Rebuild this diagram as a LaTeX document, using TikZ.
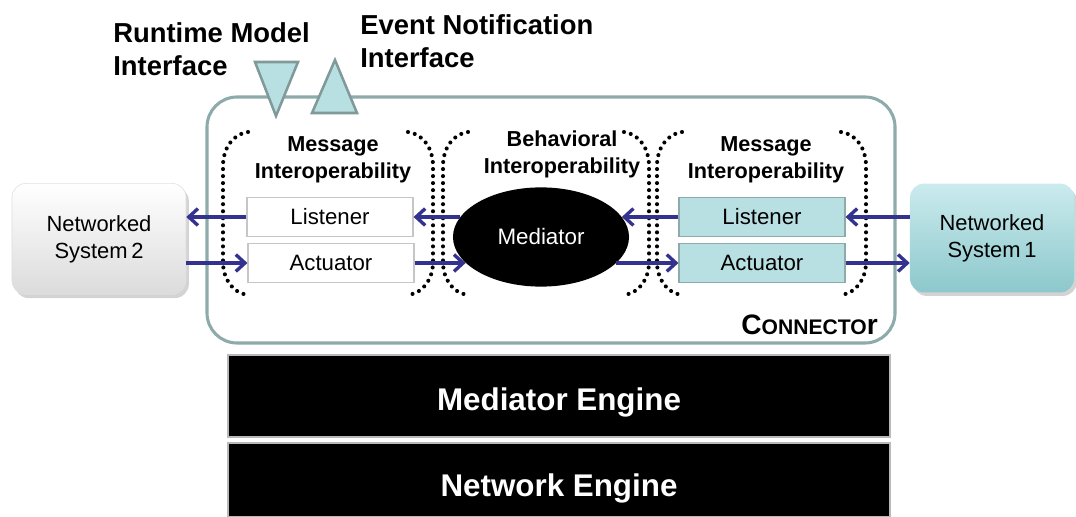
\documentclass[tikz,border=0pt]{standalone}
\usepackage{fontspec}
\setmainfont{Liberation Sans}
\usetikzlibrary{shapes.geometric,arrows.meta,shadows}

\definecolor{connline}{HTML}{8EABAB}
\definecolor{teallight}{HTML}{B8DFE1}
\definecolor{tealtop}{HTML}{CBEBED}
\definecolor{tealbot}{HTML}{8CC8CC}
\definecolor{arrowblue}{HTML}{33338F}

\tikzset{
  msgarrow/.style={draw=arrowblue, line width=2.4pt, -{Straight Barb[length=6.5pt,width=12pt]}},
  dotline/.style={line width=2.9pt, dash pattern=on 0pt off 5pt, line cap=round},
  portbox/.style={draw=gray!45, line width=0.8pt, minimum width=4.15cm, minimum height=0.97cm,
    inner sep=0pt, font=\fontsize{15.8}{19}\selectfont},
  netsys/.style={rounded corners=10pt, align=center, inner sep=0pt,
    drop shadow={shadow xshift=2pt, shadow yshift=-2.5pt, opacity=0.35},
    font=\fontsize{15.6}{19}\selectfont},
  layerhead/.style={align=center, font=\bfseries\fontsize{15.4}{19.2}\selectfont},
  toplabel/.style={align=left, anchor=north west, inner sep=0pt,
    font=\bfseries\fontsize{19.5}{24}\selectfont},
  engine/.style={fill=black, draw=gray!55, line width=1pt, text=white, text depth=0pt,
    minimum width=16.55cm, inner sep=0pt, font=\bfseries\fontsize{22.3}{26}\selectfont}
}

\begin{document}
\begin{tikzpicture}[x=0.025cm, y=-0.025cm]
  \useasboundingbox (0,0) rectangle (1076,517);

  % connector frame
  \draw[connline, line width=2.2pt, rounded corners=0.75cm] (207,97) rectangle (895,343);

  % interfaces
  \draw[fill=teallight, draw=connline!90!black, line width=1.8pt, line join=miter]
    (255,62) -- (298,62) -- (276,116) -- cycle;
  \draw[fill=teallight, draw=connline!90!black, line width=1.8pt, line join=miter]
    (312,113) -- (357,113) -- (335,60) -- cycle;
  \node[toplabel] (rtm) at (113,22) {Runtime Model\\Interface};
  \node[toplabel] (evn) at (360,14) {Event Notification\\Interface};

  % dotted brackets
  \foreach \x in {223,443,657}
    \draw[dotline] (\x+25,132) to[out=188,in=90] (\x,166) -- (\x,262) to[out=-90,in=172] (\x+25,295);
  \foreach \x in {433,649,866}
    \draw[dotline] (\x-25,132) to[out=-8,in=90] (\x,166) -- (\x,262) to[out=-90,in=8] (\x-25,295);

  \node[layerhead] (msgL) at (333,160) {Message\\Interoperability};
  \node[layerhead] (beh) at (562,154) {Behavioral\\Interoperability};
  \node[layerhead] (msgR) at (766,160) {Message\\Interoperability};

  % boxes
  \node[portbox, fill=white] (lisL) at (330,217) {Listener};
  \node[portbox, fill=white] (actL) at (331,263) {Actuator};
  \node[portbox, fill=teallight, draw=connline] (lisR) at (762,217) {Listener};
  \node[portbox, fill=teallight, draw=connline] (actR) at (762,263) {Actuator};

  \node[ellipse, fill=black, text=white, minimum width=4.4cm, minimum height=2.48cm,
    inner sep=0pt, font=\fontsize{15.9}{19}\selectfont] (med) at (541,237) {Mediator};

  \node[netsys, top color=white, bottom color=gray!28, draw=gray!25,
    minimum width=4.35cm, minimum height=2.78cm] (ns2) at (99,239) {Networked\\System\,2};
  \node[netsys, top color=tealtop, bottom color=tealbot,
    minimum width=4.1cm, minimum height=2.72cm] (ns1) at (992,238) {Networked\\System\,1};

  % message flows
  \draw[msgarrow] (lisL.west) -- (ns2.east |- lisL.west);
  \draw[msgarrow] (ns2.east |- actL.west) -- (actL.west);
  \draw[msgarrow] (med.166 |- lisL.east) -- (lisL.east);
  \draw[msgarrow] (actL.east) -- (med.199 |- actL.east);
  \draw[msgarrow] (lisR.west) -- (med.14 |- lisR.west);
  \draw[msgarrow] (med.341 |- actR.west) -- (actR.west);
  \draw[msgarrow] (ns1.west |- lisR.east) -- (lisR.east);
  \draw[msgarrow] (actR.east) -- (ns1.west |- actR.east);

  \node[anchor=east, inner sep=0pt, font=\bfseries] (conn) at (878,325)
    {\fontsize{20}{20}\selectfont C\fontsize{15}{15}\selectfont ONNECTO\fontsize{20}{20}\selectfont r};

  % engines
  \node[engine, minimum height=2.05cm, text height=20.5pt] (medEng) at (559,396) {Mediator Engine};
  \node[engine, minimum height=1.85cm, text height=23.5pt] (netEng) at (559,480) {Network Engine};
\end{tikzpicture}
\end{document}
